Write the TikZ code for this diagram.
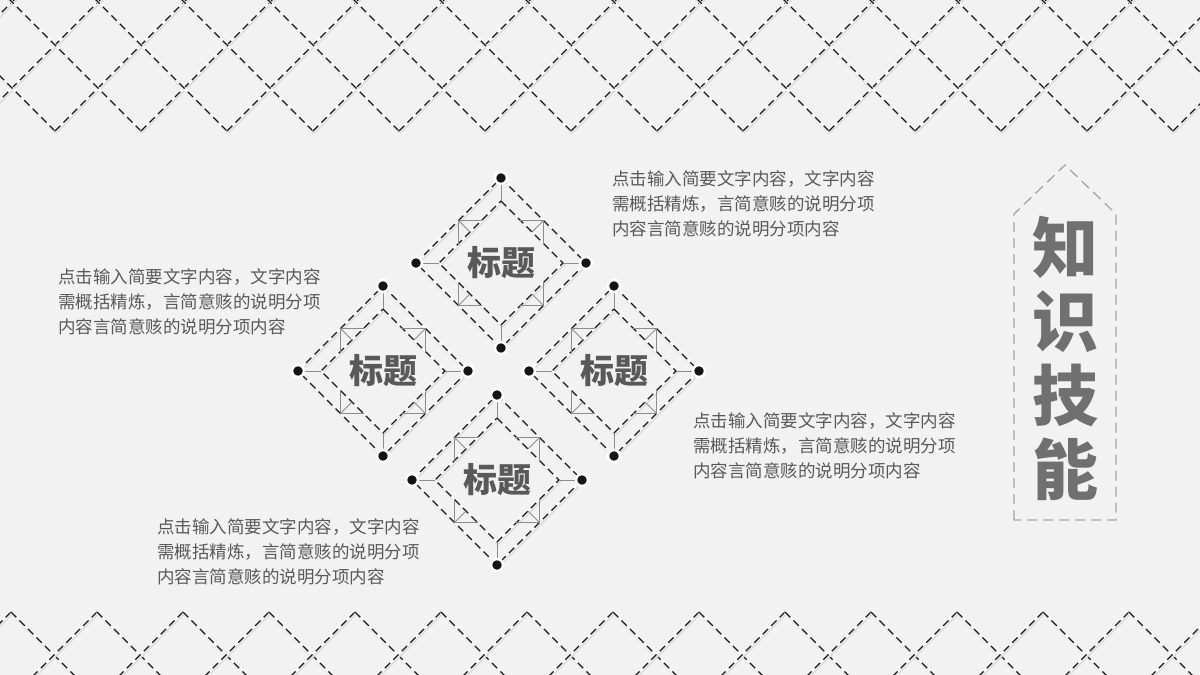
\documentclass[tikz,border=0pt]{standalone}
\usepackage{fontspec}
\newfontfamily\cjk{Noto Sans CJK SC}
\usetikzlibrary{shadows}

\definecolor{bgcol}{HTML}{F2F2F2}
\definecolor{inkcol}{HTML}{151515}
\definecolor{bevelcol}{HTML}{8C8C8C}
\definecolor{textcol}{HTML}{595959}
\definecolor{tagcol}{HTML}{A6A6A6}
\definecolor{tagtextcol}{HTML}{707070}

\tikzset{
	dashline/.style={draw=inkcol, line width=1.35pt, dash pattern=on 7.5pt off 4.5pt,
		preaction={draw=black!14, line width=2.8pt, transform canvas={xshift=0.7pt, yshift=-1.4pt}},
		preaction={draw=white, solid, line width=2.8pt, opacity=0.85}},
	bevel/.style={draw=bevelcol, line width=0.9pt},
	dot/.style={circle, fill=inkcol, draw=white, line width=2.6pt, minimum size=12pt, inner sep=0pt,
		drop shadow={opacity=0.3, shadow xshift=0.6pt, shadow yshift=-1pt}},
	titletext/.style={font=\cjk\bfseries\fontsize{34}{40}\selectfont, text=textcol, inner sep=0pt},
	bodytext/.style={font=\cjk\fontsize{17.5}{24.8}\selectfont, text=textcol, align=left, anchor=west, inner sep=0pt},
	tagline/.style={draw=tagcol, line width=1.3pt, dash pattern=on 10pt off 6pt},
	tagtext/.style={font=\cjk\bfseries\fontsize{66}{74}\selectfont, text=tagtextcol, align=center, inner sep=0pt}
}

% one title diamond: name, centre, title
\newcommand{\titlediamond}[3]{%
	\begin{scope}[shift={#2}]
		\coordinate (#1n) at (0,-85);
		\coordinate (#1e) at (85,0);
		\coordinate (#1s) at (0,85);
		\coordinate (#1w) at (-85,0);
		\coordinate (#1in) at (0,-62);
		\coordinate (#1ie) at (62,0);
		\coordinate (#1is) at (0,62);
		\coordinate (#1iw) at (-62,0);
		
		\draw[dashline] (#1n) -- (#1e) -- (#1s) -- (#1w) -- cycle;
		\draw[dashline] (#1in) -- (#1ie) -- (#1is) -- (#1iw) -- cycle;
		
		\draw[bevel] (#1n) -- (#1in) (#1e) -- (#1ie) (#1s) -- (#1is) (#1w) -- (#1iw);
		\foreach \sx/\sy in {1/1,1/-1,-1/1,-1/-1}
			\draw[bevel] (19*\sx,42.5*\sy) -- (42.5*\sx,42.5*\sy) -- (42.5*\sx,19*\sy)
				(42.5*\sx,42.5*\sy) -- (31*\sx,31*\sy);
		
		\foreach \p in {n,e,s,w}
			\node[dot] (#1\p d) at (#1\p) {};
		\node[titletext] (#1t) at (0,0) {#3};
	\end{scope}
}

\begin{document}
\begin{tikzpicture}[x=1pt,y=-1pt]
	
	\fill[bgcol] (0,0) rectangle (1200,675);
	\useasboundingbox (0,0) rectangle (1200,675);
	
	% lattice at top and bottom
	\begin{scope}
		\clip (0,0) rectangle (1200,675);
		\foreach \k in {-2,...,15}{
			\coordinate (v\k) at (55+86*\k,131);
			\draw[dashline] (v\k) -- ++(-150,-150);
			\draw[dashline] (v\k) -- ++(150,-150);
		}
		\foreach \k in {-1,...,14}{
			\coordinate (a\k) at (11+86*\k,612);
			\draw[dashline] (a\k) -- ++(-80,80);
			\draw[dashline] (a\k) -- ++(80,80);
		}
	\end{scope}
	
	% four diamonds
	\titlediamond{dT}{(501,263)}{标题}
	\titlediamond{dL}{(383,371)}{标题}
	\titlediamond{dR}{(614,371)}{标题}
	\titlediamond{dB}{(497,480)}{标题}
	
	% texts
	\node[bodytext] (txtT) at (612,204) {点击输入简要文字内容，文字内容\\需概括精炼，言简意赅的说明分项\\内容言简意赅的说明分项内容};
	\node[bodytext] (txtL) at (58,302) {点击输入简要文字内容，文字内容\\需概括精炼，言简意赅的说明分项\\内容言简意赅的说明分项内容};
	\node[bodytext] (txtR) at (693,446) {点击输入简要文字内容，文字内容\\需概括精炼，言简意赅的说明分项\\内容言简意赅的说明分项内容};
	\node[bodytext] (txtB) at (157,552) {点击输入简要文字内容，文字内容\\需概括精炼，言简意赅的说明分项\\内容言简意赅的说明分项内容};
	
	% tag on the right
	\draw[tagline] (1014,520) -- (1014,214) -- (1065,165) -- (1116,214) -- (1116,520) -- cycle;
	\node[tagtext] (tag) at (1065,358) {知\\识\\技\\能};
	
\end{tikzpicture}
\end{document}
